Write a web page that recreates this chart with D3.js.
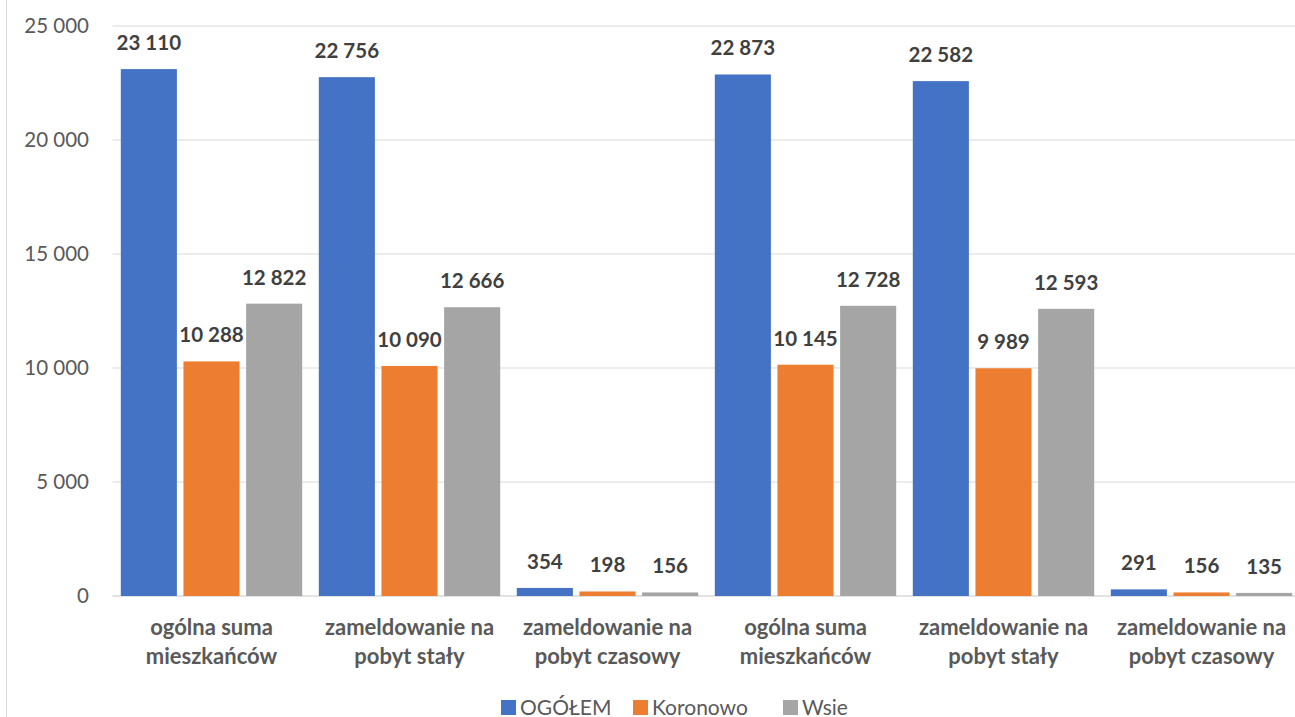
<!DOCTYPE html>
<html>
<head>
<meta charset="utf-8">
<script src="https://cdn.jsdelivr.net/npm/d3@7"></script>
<style>
  html, body { margin: 0; padding: 0; background: #fff; }
  svg { display: block; font-family: Lato, "Open Sans", sans-serif; }
</style>
</head>
<body>
<svg id="chart" width="1295" height="717"></svg>
<script>
// --- Data ---
const categories = [
  ["ogólna suma", "mieszkańców"],
  ["zameldowanie na", "pobyt stały"],
  ["zameldowanie na", "pobyt czasowy"],
  ["ogólna suma", "mieszkańców"],
  ["zameldowanie na", "pobyt stały"],
  ["zameldowanie na", "pobyt czasowy"]
];
const seriesNames = ["OGÓŁEM", "Koronowo", "Wsie"];
const ogolem   = [23110, 22756, 354, 22873, 22582, 291];
const koronowo = [10288, 10090, 198, 10145, 9989, 156];
const wsie     = [12822, 12666, 156, 12728, 12593, 135];
const yTicks = [0, 5000, 10000, 15000, 20000, 25000];
const colors = ["#4472C4", "#ED7D31", "#A5A5A5"];

const series = [ogolem, koronowo, wsie];

const svg = d3.select("#chart");
const plotLeft = 112.5, plotRight = 1300.5, plotTop = 26, plotBottom = 596;

const fmt = v => d3.format(",")(v).replace(/,/g, " ");

const x0 = d3.scaleBand().domain(d3.range(categories.length)).range([plotLeft, plotRight]).paddingInner(0).paddingOuter(0);
const x1 = d3.scaleBand().domain(d3.range(seriesNames.length)).range([8.3, x0.bandwidth() - 8.3]).paddingInner(0.105);
const y = d3.scaleLinear().domain([0, 25000]).range([plotBottom, plotTop]);

// chart border (left edge)
svg.append("line").attr("x1", 6.5).attr("x2", 6.5).attr("y1", 0).attr("y2", 717)
  .attr("stroke", "#D9D9D9").attr("stroke-width", 1);

// gridlines
svg.append("g").selectAll("line").data(yTicks).join("line")
  .attr("x1", plotLeft).attr("x2", 1295)
  .attr("y1", d => y(d)).attr("y2", d => y(d))
  .attr("stroke", "#D9D9D9").attr("stroke-width", d => d === 0 ? 1.5 : 1.2);

// y tick labels
svg.append("g").selectAll("text").data(yTicks).join("text")
  .attr("x", 89).attr("y", d => y(d)).attr("dy", "0.35em")
  .attr("text-anchor", "end").attr("fill", "#595959")
  .style("font-size", "20.5px")
  .text(fmt);

// bars
const groups = svg.append("g").selectAll("g").data(categories.map((c, i) => i)).join("g")
  .attr("transform", i => `translate(${x0(i)},0)`);

groups.selectAll("rect").data(i => series.map((s, k) => ({ k, v: s[i] }))).join("rect")
  .attr("x", d => x1(d.k)).attr("width", x1.bandwidth())
  .attr("y", d => y(d.v)).attr("height", d => y(0) - y(d.v))
  .attr("fill", d => colors[d.k]);

groups.selectAll("text.val").data(i => series.map((s, k) => ({ k, v: s[i] }))).join("text")
  .attr("class", "val")
  .attr("x", d => x1(d.k) + x1.bandwidth() / 2).attr("y", d => y(d.v) - 19)
  .attr("text-anchor", "middle").attr("fill", "#404040")
  .style("font-size", "20.5px").style("font-weight", "bold")
  .text(d => fmt(d.v));

// category labels
const cat = svg.append("g").selectAll("text").data(categories).join("text")
  .attr("x", (d, i) => x0(i) + x0.bandwidth() / 2).attr("y", 635)
  .attr("text-anchor", "middle").attr("fill", "#595959")
  .style("font-size", "22px").style("font-weight", "bold");
cat.selectAll("tspan").data(d => d).join("tspan")
  .attr("x", function () { return this.parentNode.getAttribute("x"); })
  .attr("dy", (d, j) => j === 0 ? 0 : 29)
  .text(d => d);

// legend
const legendX = [501, 633, 783];
const legend = svg.append("g").selectAll("g").data(seriesNames).join("g")
  .attr("transform", (d, i) => `translate(${legendX[i]},700)`);
legend.append("rect").attr("width", 15).attr("height", 15).attr("fill", (d, i) => colors[i]);
legend.append("text").attr("x", 19).attr("y", 14.5).attr("fill", "#595959")
  .style("font-size", "21px").text(d => d);
</script>
</body>
</html>
